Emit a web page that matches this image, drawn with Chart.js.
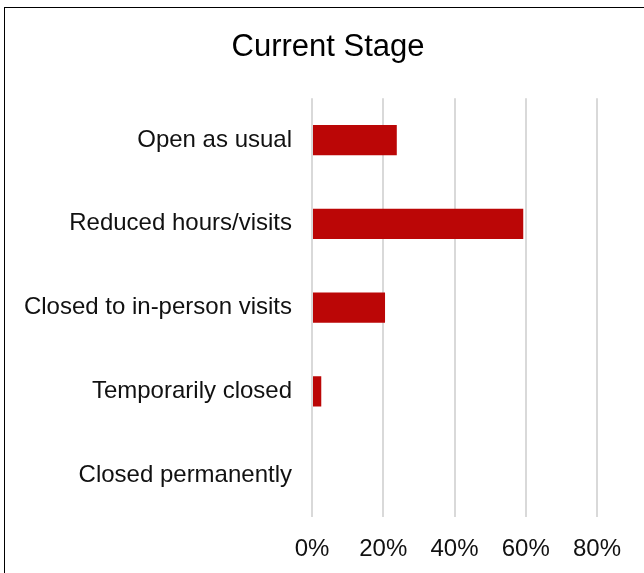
<!DOCTYPE html>
<html>
<head>
<meta charset="utf-8">
<script src="https://cdn.jsdelivr.net/npm/chart.js@4/dist/chart.umd.min.js"></script>
<style>
  html, body { margin: 0; padding: 0; background: #fff; overflow: hidden; }
  #wrap { position: relative; width: 644px; height: 573px; }
  #frame { position: absolute; left: 4px; top: 7px; width: 700px; height: 700px; border: 1px solid #000; box-sizing: border-box; pointer-events: none; }
  canvas { position: absolute; left: 0; top: 0; }
</style>
</head>
<body>
<div id="wrap">
  <canvas id="chart" width="644" height="573"></canvas>
  <div id="frame"></div>
</div>
<script>
const stages = ["Open as usual", "Reduced hours/visits", "Closed to in-person visits", "Temporarily closed", "Closed permanently"];
const shares = [23.8, 59.3, 20.5, 2.6, 0];
const tickValues = [0, 20, 40, 60, 80];

const barColor = "#bb0606";
const fontFamily = "'Liberation Sans', Arial, sans-serif";

// small left padding so the title sits centred like the reference
const padLeft = 12;

new Chart(document.getElementById("chart"), {
  type: "bar",
  data: {
    labels: stages,
    datasets: [{
      data: shares,
      backgroundColor: barColor,
      borderWidth: 0,
      barPercentage: 0.36,
      categoryPercentage: 1
    }]
  },
  options: {
    indexAxis: "y",
    responsive: false,
    animation: false,
    layout: { padding: { top: 0, right: 0, bottom: 0, left: padLeft } },
    plugins: {
      legend: { display: false },
      tooltip: { enabled: false },
      title: {
        display: true,
        text: "Current Stage",
        color: "#000",
        font: { family: fontFamily, size: 31, weight: "normal" },
        padding: { top: 29, bottom: 32 }
      }
    },
    scales: {
      x: {
        min: 0,
        max: 80,
        afterBuildTicks: (axis) => { axis.ticks = tickValues.map(v => ({ value: v })); },
        afterFit: (axis) => { axis.height = 56; axis.paddingRight = 47; },
        ticks: {
          callback: (v) => v + "%",
          color: "#111",
          font: { family: fontFamily, size: 24 },
          padding: 18,
          maxRotation: 0
        },
        grid: { color: "#d9d9d9", lineWidth: 2, drawTicks: false },
        border: { display: false }
      },
      y: {
        afterFit: (axis) => { axis.width = 312 - padLeft; },
        ticks: {
          color: "#111",
          font: { family: fontFamily, size: 24 },
          padding: 20
        },
        grid: { display: false, drawTicks: false },
        border: { display: false }
      }
    }
  }
});
</script>
</body>
</html>
